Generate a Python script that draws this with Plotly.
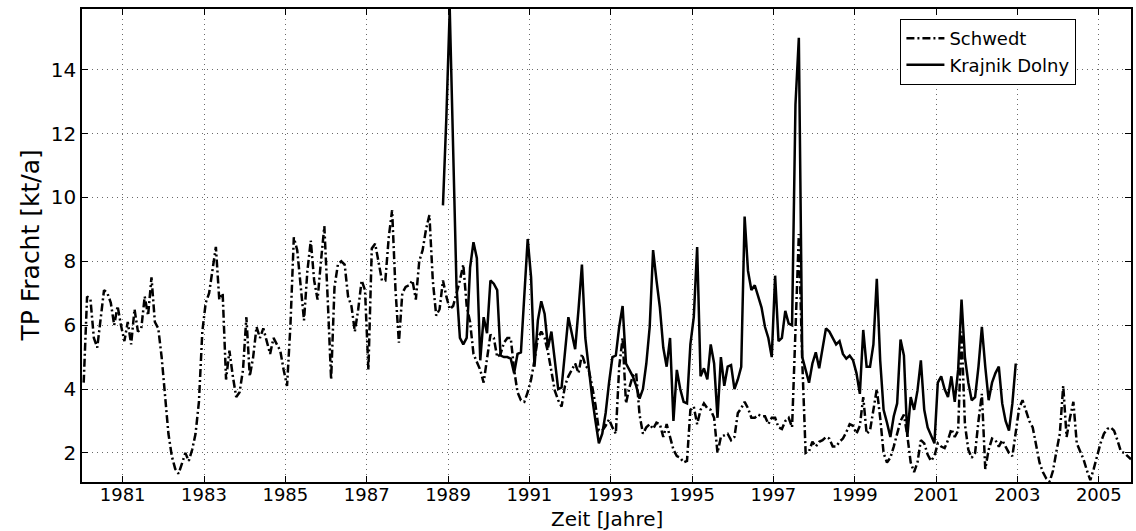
import plotly.graph_objects as go

# Monthly total-phosphorus loads [kt/a] at two gauging stations on the Oder.
# Schwedt: Jan 1980 - Oct 2005
schwedt_1980s = [
    4.2, 6.9, 6.8, 5.6, 5.3, 6.3, 7.1, 7.0, 6.7, 6.0, 6.6, 6.0,      # 1980
    5.5, 6.1, 5.4, 6.5, 5.8, 5.9, 6.9, 6.3, 7.5, 6.1, 5.9, 5.0,      # 1981
    3.7, 2.6, 1.9, 1.5, 1.35, 1.7, 2.0, 1.75, 2.1, 2.6, 3.6, 5.8,    # 1982
    6.7, 7.0, 7.8, 8.45, 6.8, 7.0, 4.3, 5.2, 4.4, 3.75, 3.9, 4.6,    # 1983
    6.25, 4.4, 5.0, 5.95, 5.6, 5.9, 5.5, 5.1, 5.6, 5.4, 5.2, 4.6,    # 1984
    4.1, 6.0, 8.75, 8.35, 7.2, 6.15, 7.7, 8.65, 7.4, 6.8, 8.0, 9.1,  # 1985
    6.8, 4.3, 7.2, 7.9, 8.0, 7.9, 6.9, 6.6, 5.8, 6.5, 7.4, 7.1,      # 1986
    4.6, 8.4, 8.55, 8.0, 7.4, 7.4, 8.75, 9.6, 7.1, 5.45, 7.0, 7.2,   # 1987
    7.25, 7.4, 6.8, 8.0, 8.35, 9.0, 9.45, 7.4, 6.3, 6.5, 7.4, 6.9,   # 1988
    6.5, 6.6, 7.0, 7.4, 7.9, 6.6, 6.1, 5.1, 4.85, 4.6, 4.2, 5.0,     # 1989
]
schwedt_1990s = [
    5.7, 5.6, 5.0, 5.1, 5.45, 5.6, 5.6, 4.6, 3.9, 3.65, 3.6, 3.9,    # 1990
    4.3, 4.9, 5.6, 5.8, 5.6, 5.15, 4.6, 3.95, 3.65, 3.45, 4.1, 4.4,  # 1991
    4.6, 4.8, 4.5, 5.1, 4.75, 4.6, 4.1, 3.5, 2.7, 2.7, 2.85, 3.05,   # 1992
    2.8, 2.6, 4.7, 5.6, 3.55, 4.05, 4.4, 4.5, 3.2, 2.6, 2.8, 2.9,    # 1993
    2.75, 2.95, 2.9, 2.5, 2.9, 2.5, 2.1, 1.9, 1.85, 1.7, 1.75, 3.35, # 1994
    3.45, 2.9, 3.35, 3.55, 3.4, 3.35, 3.1, 2.0, 2.5, 2.55, 2.6, 2.4, # 1995
    2.5, 3.25, 3.4, 3.6, 3.4, 3.1, 3.1, 3.2, 3.15, 3.15, 2.9, 3.1,   # 1996
    3.1, 2.8, 2.75, 3.0, 3.1, 2.8, 6.0, 8.85, 4.9, 2.0, 2.05, 2.35,  # 1997
    2.2, 2.35, 2.4, 2.5, 2.45, 2.2, 2.2, 2.35, 2.45, 2.65, 2.9, 2.85,  # 1998
    2.6, 2.85, 3.75, 2.6, 2.7, 3.35, 4.0, 3.1, 2.0, 1.7, 1.85, 2.2,  # 1999
]
schwedt_2000s = [
    2.6, 3.0, 3.2, 2.55, 1.7, 1.4, 1.7, 2.4, 2.3, 1.95, 1.75, 1.9,   # 2000
    2.3, 2.2, 2.15, 2.4, 2.75, 2.5, 2.7, 5.8, 2.9, 2.1, 1.85, 2.0,   # 2001
    3.0, 3.85, 1.5, 2.1, 2.45, 2.4, 2.2, 2.4, 2.2, 2.0, 1.9, 2.6,    # 2002
    3.4, 3.65, 3.3, 3.0, 2.8, 2.2, 1.7, 1.4, 1.2, 1.1, 1.45, 2.05,   # 2003
    2.6, 4.1, 2.5, 3.1, 3.6, 2.3, 2.05, 1.8, 1.45, 1.15, 1.5, 1.9,   # 2004
    2.3, 2.6, 2.75, 2.8, 2.7, 2.4, 2.05, 2.0, 1.9, 1.8,              # 2005
]

# Krajnik Dolny: Nov 1988 - Dec 2002
krajnik_1988_1995 = [
    9.75, 12.5,                                                        # 1988
    15.9, 11.6, 7.2, 5.6, 5.4, 5.6, 7.8, 8.6, 8.1, 4.9, 6.25, 5.75,    # 1989
    7.4, 7.3, 7.1, 5.05, 5.0, 5.0, 4.95, 4.5, 5.1, 5.15, 6.9, 8.7,     # 1990
    7.5, 4.7, 6.15, 6.75, 6.35, 5.3, 5.8, 4.9, 4.0, 4.05, 5.2, 6.25,   # 1991
    5.75, 5.25, 6.5, 7.9, 5.6, 4.6, 3.75, 3.0, 2.3, 2.6, 3.25, 4.2,    # 1992
    5.0, 5.05, 5.95, 6.6, 4.8, 4.6, 4.4, 4.1, 3.7, 4.0, 4.8, 5.95,     # 1993
    8.35, 7.4, 6.55, 5.3, 4.7, 5.6, 3.0, 4.6, 4.0, 3.6, 3.55, 5.4,     # 1994
    6.25, 8.45, 4.4, 4.65, 4.3, 5.4, 4.8, 3.1, 5.0, 4.1, 4.7, 4.75,    # 1995
]
krajnik_1996_2002 = [
    4.0, 4.3, 4.7, 9.4, 7.7, 7.1, 7.25, 6.9, 6.55, 5.95, 5.6, 5.0,     # 1996
    7.55, 5.5, 5.6, 6.45, 6.05, 6.0, 12.9, 15.0, 5.0, 4.6, 4.2, 4.8,   # 1997
    5.15, 4.65, 5.3, 5.9, 5.8, 5.6, 5.4, 5.5, 5.1, 4.95, 5.05, 4.9,    # 1998
    4.5, 3.85, 5.85, 4.7, 4.7, 5.4, 7.45, 4.9, 3.35, 2.95, 2.5, 3.15,  # 1999
    3.55, 5.55, 5.05, 2.5, 3.75, 3.35, 3.95, 4.9, 3.35, 2.8, 2.55, 2.3,  # 2000
    4.2, 4.4, 4.0, 3.75, 4.4, 3.6, 4.6, 6.8, 5.0, 4.2, 3.65, 3.75,     # 2001
    4.7, 5.95, 4.7, 3.65, 4.2, 4.5, 4.7, 3.55, 3.0, 2.7, 3.55, 4.8,    # 2002
]

SCHWEDT_START = (1980, 1)
KRAJNIK_START = (1988, 11)

year_ticks = list(range(1981, 2006, 2))
load_ticks = [2, 4, 6, 8, 10, 12, 14]

FONT = "DejaVu Sans, Liberation Sans, Arial, sans-serif"


def month_axis(start, n):
    """Decimal-year time stamps at the middle of each month."""
    year, month = start
    return [year + (month - 1 + i + 0.5) / 12 for i in range(n)]


schwedt = schwedt_1980s + schwedt_1990s + schwedt_2000s
krajnik = krajnik_1988_1995 + krajnik_1996_2002
t_schwedt = month_axis(SCHWEDT_START, len(schwedt))
t_krajnik = month_axis(KRAJNIK_START, len(krajnik))

fig = go.Figure()
fig.add_trace(go.Scatter(
    x=t_schwedt, y=schwedt, mode="lines", name="Schwedt",
    line=dict(color="black", width=2.5, dash="8px,3px,2px,3px"),
))
fig.add_trace(go.Scatter(
    x=t_krajnik, y=krajnik, mode="lines", name="Krajnik Dolny",
    line=dict(color="black", width=2.5),
))

axis_common = dict(
    showline=True, linecolor="black", linewidth=1.5, mirror="ticks",
    ticks="inside", ticklen=6, tickwidth=1, tickcolor="black",
    showgrid=True, gridcolor="#6a6a6a", gridwidth=1, griddash="1px,4px",
    zeroline=False,
)

fig.update_xaxes(
    range=[1980.0, t_schwedt[-1]],
    tickvals=year_ticks, ticktext=[str(y) for y in year_ticks],
    tickfont=dict(family=FONT, size=18, color="black"),
    ticklabelstandoff=-4,
    **axis_common,
)
fig.update_yaxes(
    range=[min(schwedt) - 0.01, max(krajnik)],
    tickvals=load_ticks, ticktext=[str(v) for v in load_ticks],
    tickfont=dict(family=FONT, size=20, color="black"),
    **axis_common,
)

fig.update_layout(
    width=1136, height=531,
    margin=dict(l=82, r=3, t=9, b=49),
    paper_bgcolor="white", plot_bgcolor="white",
    showlegend=True,
    legend=dict(
        x=0.780, y=0.979, xanchor="left", yanchor="top",
        bgcolor="white", bordercolor="black", borderwidth=1.2,
        font=dict(family=FONT, size=18, color="black"),
        tracegroupgap=0, itemwidth=38,
    ),
    annotations=[
        dict(text="Zeit [Jahre]", xref="paper", yref="paper",
             x=0.5, y=-0.0782, xanchor="center", yanchor="middle",
             showarrow=False, font=dict(family=FONT, size=20, color="black")),
        dict(text="TP Fracht [kt/a]", xref="paper", yref="paper",
             x=-0.0495, y=0.5, xanchor="center", yanchor="middle",
             textangle=-90, showarrow=False,
             font=dict(family=FONT, size=25, color="black")),
    ],
)

fig.write_html("out.html")
